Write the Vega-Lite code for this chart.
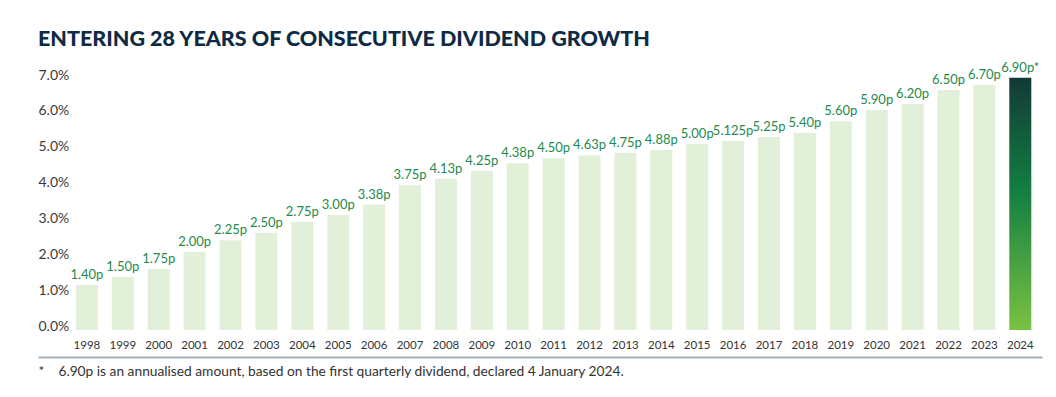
{
  "$schema": "https://vega.github.io/schema/vega-lite/v6.json",
  "width": 1004,
  "height": 251.5,
  "autosize": {"type": "none"},
  "padding": {"left": 38, "top": 78.5, "right": 14, "bottom": 67},
  "background": "white",
  "title": {
    "text": "ENTERING 28 YEARS OF CONSECUTIVE DIVIDEND GROWTH",
    "anchor": "start",
    "frame": "group",
    "font": "Lato",
    "fontSize": 21.5,
    "fontWeight": 900,
    "color": "#0f2a44",
    "offset": 11
  },
  "data": {
    "values": [
      {"year": "1998", "value": 1.25, "label": "1.40p"},
      {"year": "1999", "value": 1.48, "label": "1.50p"},
      {"year": "2000", "value": 1.70, "label": "1.75p"},
      {"year": "2001", "value": 2.18, "label": "2.00p"},
      {"year": "2002", "value": 2.50, "label": "2.25p"},
      {"year": "2003", "value": 2.71, "label": "2.50p"},
      {"year": "2004", "value": 3.01, "label": "2.75p"},
      {"year": "2005", "value": 3.20, "label": "3.00p"},
      {"year": "2006", "value": 3.49, "label": "3.38p"},
      {"year": "2007", "value": 4.03, "label": "3.75p"},
      {"year": "2008", "value": 4.21, "label": "4.13p"},
      {"year": "2009", "value": 4.43, "label": "4.25p"},
      {"year": "2010", "value": 4.64, "label": "4.38p"},
      {"year": "2011", "value": 4.78, "label": "4.50p"},
      {"year": "2012", "value": 4.86, "label": "4.63p"},
      {"year": "2013", "value": 4.93, "label": "4.75p"},
      {"year": "2014", "value": 5.01, "label": "4.88p"},
      {"year": "2015", "value": 5.18, "label": "5.00p"},
      {"year": "2016", "value": 5.26, "label": "5.125p"},
      {"year": "2017", "value": 5.37, "label": "5.25p"},
      {"year": "2018", "value": 5.48, "label": "5.40p"},
      {"year": "2019", "value": 5.81, "label": "5.60p"},
      {"year": "2020", "value": 6.12, "label": "5.90p"},
      {"year": "2021", "value": 6.29, "label": "6.20p"},
      {"year": "2022", "value": 6.68, "label": "6.50p"},
      {"year": "2023", "value": 6.82, "label": "6.70p"},
      {"year": "2024", "value": 7.02, "label": "6.90p*"}
    ]
  },
  "encoding": {
    "x": {
      "field": "year",
      "type": "ordinal",
      "sort": null,
      "scale": {"paddingInner": 0.387, "paddingOuter": 0.677, "align": 0.78},
      "axis": {
        "title": "*\u00a0\u00a0\u00a0\u00a06.90p is an annualised amount, based on the first quarterly dividend, declared 4 January 2024.",
        "titleAnchor": "start",
        "titleAlign": "left",
        "titleX": 0,
        "titleY": 14,
        "titleBaseline": "middle",
        "titleFont": "Lato",
        "titleFontSize": 13.75,
        "titleFontWeight": "normal",
        "titleColor": "#333333",
        "labelAngle": 0,
        "labelFont": "Lato",
        "labelFontSize": 11.5,
        "labelColor": "#333333",
        "labelBaseline": "middle",
        "labelPadding": -12,
        "ticks": false,
        "offset": 27,
        "domainColor": "#a3b0bd",
        "domainWidth": 2
      }
    },
    "y": {
      "field": "value",
      "type": "quantitative",
      "scale": {"domain": [0, 7], "nice": false},
      "axis": {
        "title": null,
        "values": [0, 1, 2, 3, 4, 5, 6, 7],
        "labelExpr": "format(datum.value, '.1f') + '%'",
        "labelFont": "Lato",
        "labelFontSize": 14,
        "labelColor": "#3a3a3a",
        "labelAlign": "left",
        "labelPadding": 0,
        "labelOffset": -3.5,
        "grid": false,
        "domain": false,
        "ticks": false
      }
    }
  },
  "layer": [
    {
      "transform": [{"filter": "datum.year != '2024'"}],
      "mark": {"type": "bar", "color": "#e2f0d9"}
    },
    {
      "transform": [{"filter": "datum.year == '2024'"}],
      "mark": {
        "type": "bar",
        "color": {
          "gradient": "linear",
          "x1": 0, "y1": 0, "x2": 0, "y2": 1,
          "stops": [
            {"offset": 0, "color": "#123a36"},
            {"offset": 0.45, "color": "#137f42"},
            {"offset": 1, "color": "#79c243"}
          ]
        }
      }
    },
    {
      "mark": {
        "type": "text",
        "baseline": "bottom",
        "dy": -3,
        "font": "Lato",
        "fontSize": 13,
        "color": "#1f8a4c"
      },
      "encoding": {"text": {"field": "label"}}
    }
  ],
  "config": {"view": {"stroke": null}}
}
